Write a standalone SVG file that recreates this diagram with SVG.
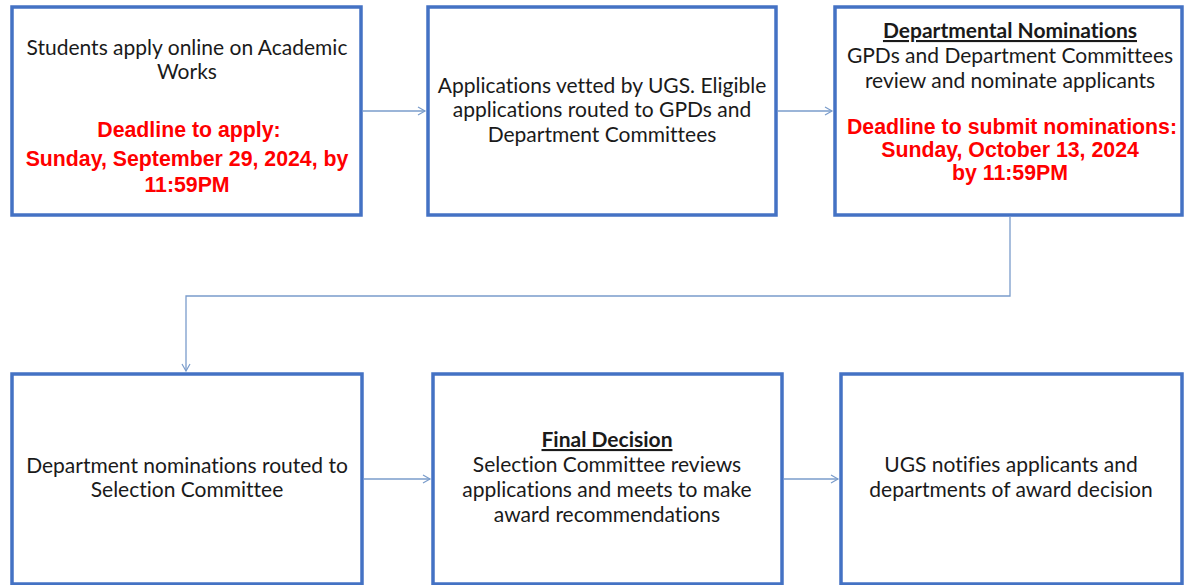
<svg xmlns="http://www.w3.org/2000/svg" width="1185" height="585" viewBox="0 0 1185 585">
<style>
.box{fill:#fff;stroke:#4472C4;stroke-width:3.5}
.t{font-family:Lato,"Open Sans","Liberation Sans",sans-serif;font-size:21px;fill:#1a1a1a;text-anchor:middle;font-variant-ligatures:none}
.h{font-weight:bold;text-decoration:underline}
.r{font-family:"Liberation Sans",Arial,sans-serif;font-weight:bold;font-size:21.3px;fill:#FF0000;text-anchor:middle}
.c{fill:none;stroke:#7A9CCB;stroke-width:1.3}
</style>
<defs>
<marker id="ah" markerWidth="10" markerHeight="10" refX="8" refY="5" orient="auto" markerUnits="userSpaceOnUse">
<path d="M1,1 L8,5 L1,9" fill="none" stroke="#7A9CCB" stroke-width="1.2"/>
</marker>
</defs>
<rect width="1185" height="585" fill="#fff"/>
<g id="connectors">
<line class="c" x1="363" y1="111" x2="425" y2="111" marker-end="url(#ah)"/>
<line class="c" x1="778" y1="111" x2="832" y2="111" marker-end="url(#ah)"/>
<polyline class="c" points="1010,217 1010,296 186,296 186,371" marker-end="url(#ah)"/>
<line class="c" x1="364" y1="479" x2="430" y2="479" marker-end="url(#ah)"/>
<line class="c" x1="784" y1="479" x2="838" y2="479" marker-end="url(#ah)"/>
</g>
<g id="node1">
<rect class="box" x="12" y="7" width="349" height="208"/>
<text class="t" x="187" y="55">Students apply online on Academic</text>
<text class="t" x="187" y="79">Works</text>
<text class="r" x="189" y="137">Deadline to apply:</text>
<text class="r" x="187" y="166">Sunday, September 29, 2024, by</text>
<text class="r" x="187" y="192">11:59PM</text>
</g>
<g id="node2">
<rect class="box" x="428" y="7" width="348" height="208"/>
<text class="t" x="602" y="93">Applications vetted by UGS. Eligible</text>
<text class="t" x="602" y="117">applications routed to GPDs and</text>
<text class="t" x="602" y="142">Department Committees</text>
</g>
<g id="node3">
<rect class="box" x="835" y="7" width="347" height="208"/>
<text class="t h" x="1010" y="38">Departmental Nominations</text>
<text class="t" x="1010" y="63">GPDs and Department Committees</text>
<text class="t" x="1010" y="88">review and nominate applicants</text>
<text class="r" x="1012" y="134">Deadline to submit nominations:</text>
<text class="r" x="1010" y="157">Sunday, October 13, 2024</text>
<text class="r" x="1010" y="180">by 11:59PM</text>
</g>
<g id="node4">
<rect class="box" x="12" y="374" width="350" height="210"/>
<text class="t" x="187" y="473">Department nominations routed to</text>
<text class="t" x="187" y="497">Selection Committee</text>
</g>
<g id="node5">
<rect class="box" x="433" y="374" width="349" height="210"/>
<text class="t h" x="607" y="447">Final Decision</text>
<text class="t" x="607" y="472">Selection Committee reviews</text>
<text class="t" x="607" y="497">applications and meets to make</text>
<text class="t" x="607" y="522">award recommendations</text>
</g>
<g id="node6">
<rect class="box" x="841" y="374" width="341" height="210"/>
<text class="t" x="1011" y="472">UGS notifies applicants and</text>
<text class="t" x="1011" y="497">departments of award decision</text>
</g>
</svg>
